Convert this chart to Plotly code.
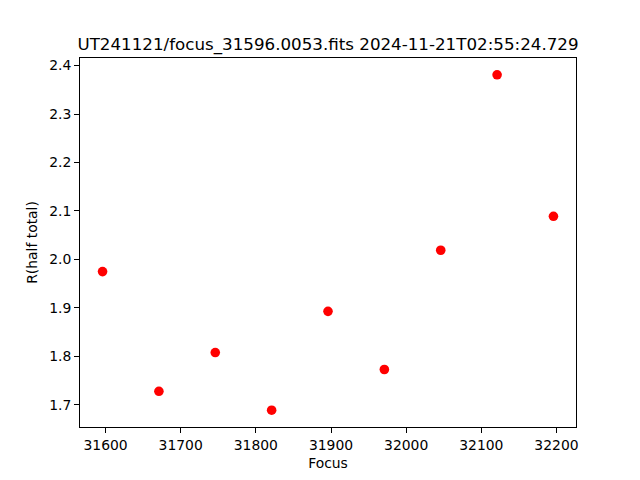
import plotly.graph_objects as go

focus = [31596, 31671, 31746, 31821, 31896, 31971, 32046, 32121, 32196]
r_half = [1.975, 1.728, 1.808, 1.689, 1.893, 1.773, 2.019, 2.381, 2.089]
title = "UT241121/focus_31596.0053.fits 2024-11-21T02:55:24.729"
x_ticks = [31600, 31700, 31800, 31900, 32000, 32100, 32200]
y_ticks = [1.7, 1.8, 1.9, 2.0, 2.1, 2.2, 2.3, 2.4]

xpad = (max(focus) - min(focus)) * 0.05
ypad = (max(r_half) - min(r_half)) * 0.05

# page body has an 8px margin; the figure is sized to fill the rest
W, H, OFF = 632, 472, 8

fig = go.Figure(go.Scatter(
    x=focus, y=r_half, mode="markers",
    marker=dict(color="red", size=9.6, line=dict(width=0)),
))

axis_common = dict(
    showline=True, linecolor="black", linewidth=1.1, mirror=True,
    ticks="outside", ticklen=4.9, tickwidth=1.1, tickcolor="black",
    showgrid=False, zeroline=False,
    tickfont=dict(family="DejaVu Sans", size=13.9, color="black"),
)

fig.update_layout(
    width=W, height=H,
    margin=dict(l=80 - OFF, r=64, t=57.6 - OFF, b=52.8),
    paper_bgcolor="white", plot_bgcolor="white",
    showlegend=False,
    font=dict(family="DejaVu Sans", color="black"),
    title=dict(text=title, x=(328 - OFF) / W, xanchor="center",
               y=1 - (44 - OFF) / H, yanchor="middle",
               font=dict(family="DejaVu Sans", size=16.7, color="black")),
    xaxis=dict(range=[min(focus) - xpad, max(focus) + xpad],
               tickvals=x_ticks, ticktext=[str(v) for v in x_ticks],
               title=dict(text="Focus", font=dict(size=13.9), standoff=6),
               **axis_common),
    yaxis=dict(range=[min(r_half) - ypad, max(r_half) + ypad],
               tickvals=y_ticks, ticktext=[f"{v:.1f}" for v in y_ticks],
               title=dict(text="R(half total)", font=dict(size=13.9), standoff=8),
               **axis_common),
)

fig.write_html("out.html")
